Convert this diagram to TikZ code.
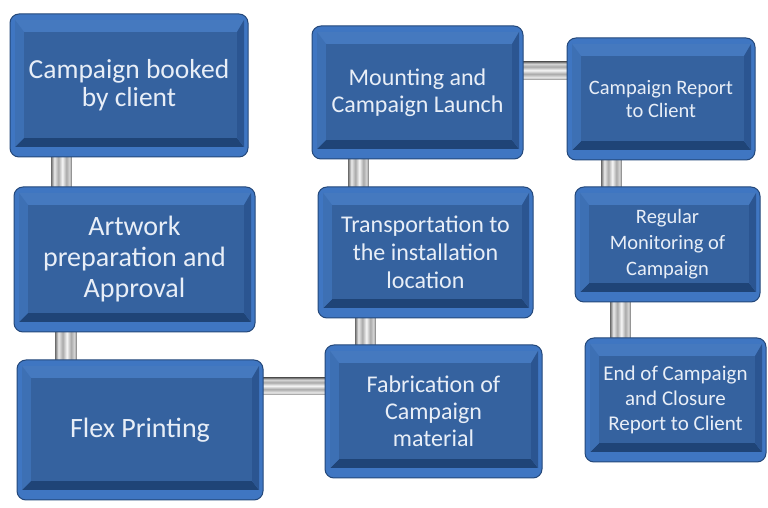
\documentclass[tikz,border=0pt]{standalone}
\usepackage{fontspec}
\setmainfont{Carlito}
\usetikzlibrary{calc,backgrounds}
\definecolor{boxrim}{HTML}{3F76C2}
\definecolor{boxline}{HTML}{24487A}
\definecolor{beveltop}{HTML}{4579BF}
\definecolor{bevelleft}{HTML}{3D70B4}
\definecolor{bevelright}{HTML}{2B5591}
\definecolor{bevelbot}{HTML}{1F4477}
\definecolor{boxface}{HTML}{35629F}
\definecolor{boxtext}{HTML}{E8EEF7}
\definecolor{pipeD}{HTML}{7E7E7E}
\definecolor{pipeL}{HTML}{EAEAEA}
\definecolor{pipeM}{HTML}{A9A9A9}
\definecolor{pipeW}{HTML}{F6F6F6}
\pgfdeclarehorizontalshading{pipeshade}{100bp}{color(0bp)=(pipeD); color(25bp)=(pipeD); color(32bp)=(pipeL); color(42bp)=(pipeM); color(52bp)=(pipeW); color(62bp)=(pipeM); color(70bp)=(pipeL!70!pipeM); color(75bp)=(pipeD); color(100bp)=(pipeD)}
\tikzset{
  stepbox/.style={rectangle, rounded corners=9pt, draw=boxline, line width=1pt,
    fill=boxrim, text=boxtext, align=center, inner sep=0pt,
    path picture={
      \coordinate (pp1) at ($(path picture bounding box.south west)+(5,10)$);
      \coordinate (pp2) at ($(path picture bounding box.north east)+(-4,-6)$);
      \coordinate (pp3) at ($(path picture bounding box.south west)+(14,19)$);
      \coordinate (pp4) at ($(path picture bounding box.north east)+(-11,-18)$);
      \fill[sharp corners, beveltop] (pp1 |- pp2) -- (pp2) -- (pp4) -- (pp3 |- pp4) -- cycle;
      \fill[sharp corners, bevelbot] (pp1) -- (pp2 |- pp1) -- (pp4 |- pp3) -- (pp3) -- cycle;
      \fill[sharp corners, bevelleft] (pp1) -- (pp1 |- pp2) -- (pp3 |- pp4) -- (pp3) -- cycle;
      \fill[sharp corners, bevelright] (pp2 |- pp1) -- (pp2) -- (pp4) -- (pp4 |- pp3) -- cycle;
      \fill[sharp corners, boxface] (pp3) rectangle (pp4);
    }},
  vpipe/.style={shading=pipeshade},
  hpipe/.style={shading=pipeshade, shading angle=90}
}
\begin{document}
\begin{tikzpicture}[x=1pt,y=1pt]
\useasboundingbox (0,0) rectangle (768,508);

\node[stepbox, minimum width=238pt, minimum height=143pt, font=\fontsize{27.5}{28}\selectfont] (B1) at (129,422.5) {Campaign booked\\by client};
\node[stepbox, minimum width=241pt, minimum height=145pt, font=\fontsize{28}{31}\selectfont] (B2) at (134.5,248.5) {Artwork\\preparation and\\Approval};
\node[stepbox, minimum width=246pt, minimum height=140pt, font=\fontsize{28}{31}\selectfont] (B3) at (140,78) {Flex Printing};
\node[stepbox, minimum width=211pt, minimum height=133pt, font=\fontsize{24}{27}\selectfont] (B4) at (417.5,415.5) {Mounting and\\Campaign Launch};
\node[stepbox, minimum width=215pt, minimum height=131pt, font=\fontsize{24}{28}\selectfont] (B5) at (425.5,255.5) {Transportation to\\the installation\\location};
\node[stepbox, minimum width=217pt, minimum height=133pt, font=\fontsize{24}{27}\selectfont] (B6) at (433.5,96.5) {Fabrication of\\Campaign\\material};
\node[stepbox, minimum width=188pt, minimum height=122pt, font=\fontsize{20.5}{23}\selectfont] (B7) at (661,409) {Campaign Report\\to Client};
\node[stepbox, minimum width=185pt, minimum height=115pt, font=\fontsize{20.5}{26}\selectfont] (B8) at (667.5,263.5) {Regular\\Monitoring of\\Campaign};
\node[stepbox, minimum width=181pt, minimum height=124pt, font=\fontsize{21}{25}\selectfont] (B9) at (675.5,108) {End of Campaign\\and Closure\\Report to Client};

\begin{pgfonlayer}{background}
  \fill[white] (0,0) rectangle (768,508);
  % vertical pipes
  \shade[vpipe] ($(B1.south west)+(42,6)$) rectangle ($(B1.south west |- B2.north)+(62,-6)$);
  \shade[vpipe] ($(B2.south west)+(42,6)$) rectangle ($(B2.south west |- B3.north)+(63,-6)$);
  \shade[vpipe] ($(B6.north west)+(31,-6)$) rectangle ($(B6.north west |- B5.south)+(51,6)$);
  \shade[vpipe] ($(B5.north west)+(31,-6)$) rectangle ($(B5.north west |- B4.south)+(51,6)$);
  \shade[vpipe] ($(B7.south west)+(35,6)$) rectangle ($(B7.south west |- B8.north)+(55,-6)$);
  \shade[vpipe] ($(B8.south west)+(36,6)$) rectangle ($(B8.south west |- B9.north)+(56,-6)$);
  % horizontal pipes
  \shade[hpipe] ($(B3.east |- 0,113)+(-6,0)$) rectangle ($(B6.west |- 0,130)+(6,0)$);
  \shade[hpipe] ($(B4.east |- 0,428)+(-6,0)$) rectangle ($(B7.west |- 0,446)+(6,0)$);
\end{pgfonlayer}
\end{tikzpicture}
\end{document}
